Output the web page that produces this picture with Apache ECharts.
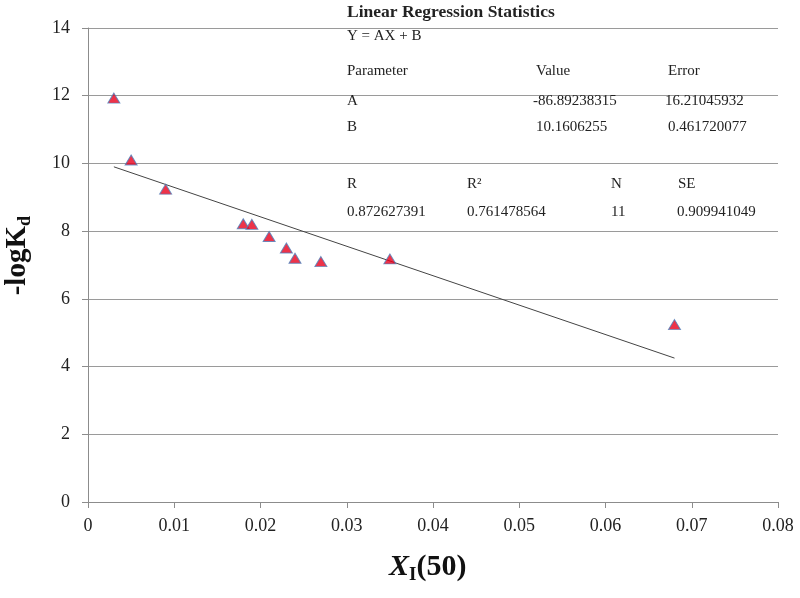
<!DOCTYPE html>
<html><head><meta charset="utf-8">
<script src="https://cdn.jsdelivr.net/npm/echarts@6/dist/echarts.min.js"></script>
<style>html,body{margin:0;padding:0;background:#fff}#c{width:800px;height:598px}</style>
</head><body><div id="c"></div>
<script>
var xValues = [0.003, 0.005, 0.009, 0.018, 0.019, 0.021, 0.023, 0.024, 0.027, 0.035, 0.068];
var yValues = [11.93, 10.1, 9.24, 8.22, 8.2, 7.84, 7.5, 7.2, 7.1, 7.18, 5.24];
var fitLine = [[0.003, 9.90], [0.068, 4.25]];
var xTicks = [0, 0.01, 0.02, 0.03, 0.04, 0.05, 0.06, 0.07, 0.08];
var yTicks = [0, 2, 4, 6, 8, 10, 12, 14];
var statsRows = [
  ['Parameter', 'Value', 'Error'],
  ['A', '-86.89238315', '16.21045932'],
  ['B', '10.1606255', '0.461720077']
];
var statsHead2 = ['R', 'R²', 'N', 'SE'];
var statsVals2 = ['0.872627391', '0.761478564', '11', '0.909941049'];

var pts = xValues.map(function(x, i){ return [x, yValues[i]]; });
var serif = 'Liberation Serif';
var txtColor = '#222';
var G = [];
function T(x, y, s, font){
  G.push({type: 'text', left: x, top: y, z: 10,
    style: {text: s, fill: txtColor, font: font || ('15px "' + serif + '"')}});
}
T(347, 3, 'Linear Regression Statistics', 'bold 17.5px "' + serif + '"');
T(347, 29, 'Y = AX + B');
var colX = [347, 536, 668];
var rowY = [64, 94, 120];
statsRows.forEach(function(r, i){ r.forEach(function(s, j){ T(colX[j] - (i===1 && j>0 ? 3 : 0), rowY[i], s); }); });
var col2 = [347, 467, 611, 678];
statsHead2.forEach(function(s, j){ T(col2[j], 177, s); });
var col2v = [347, 467, 611, 677];
statsVals2.forEach(function(s, j){ T(col2v[j], 205, s); });

var chart = echarts.init(document.getElementById('c'));
chart.setOption({
  animation: false,
  grid: {left: 88, right: 22, top: 28, bottom: 96},
  xAxis: {
    type: 'value', min: 0, max: 0.08, interval: 0.01,
    axisLine: {show: true, lineStyle: {color: '#8c8c8c', width: 1}},
    axisTick: {show: true, length: 6, lineStyle: {color: '#8c8c8c'}},
    axisLabel: {margin: 15, color: txtColor, fontFamily: serif, fontSize: 18,
      formatter: function(v){ var t = xTicks.filter(function(k){return Math.abs(k-v)<1e-9;}); return t.length ? (t[0]===0?'0':t[0].toFixed(2)) : ''; }},
    splitLine: {show: false}
  },
  yAxis: {
    type: 'value', min: 0, max: 14, interval: 2,
    axisLine: {show: true, lineStyle: {color: '#8c8c8c', width: 1}},
    axisTick: {show: true, length: 6, lineStyle: {color: '#8c8c8c'}},
    axisLabel: {margin: 18, color: txtColor, fontFamily: serif, fontSize: 18,
      formatter: function(v){ return yTicks.indexOf(v) >= 0 ? String(v) : ''; }},
    splitLine: {show: true, lineStyle: {color: '#9a9a9a', width: 1}}
  },
  graphic: G.concat([
    {type: 'text', left: 389, top: 552, z: 10, style: {
      text: '{x|X}{s|I}{p|(50)}', fill: '#111',
      rich: {
        x: {font: 'italic bold 30px "' + serif + '"', fill: '#111'},
        s: {font: 'bold 19px "' + serif + '"', fill: '#111', padding: [16, 0, 0, 0]},
        p: {font: 'bold 30px "' + serif + '"', fill: '#111'}
      }}},
    {type: 'text', left: 3, top: 216, rotation: Math.PI/2, z: 10, style: {
      text: '{m|-logK}{s|d}', fill: '#111',
      rich: {
        m: {font: 'bold 29px "' + serif + '"', fill: '#111'},
        s: {font: 'bold 18px "' + serif + '"', fill: '#111', padding: [15, 0, 0, 0]}
      }}}
  ]),
  series: [
    {type: 'line', data: fitLine, symbol: 'none', lineStyle: {color: '#444', width: 1}, z: 2},
    {type: 'scatter', data: pts, symbol: 'triangle', symbolSize: [12, 10],
      itemStyle: {color: '#e8001c', borderColor: '#4f81bd', borderWidth: 1}, z: 3}
  ]
});
</script></body></html>
